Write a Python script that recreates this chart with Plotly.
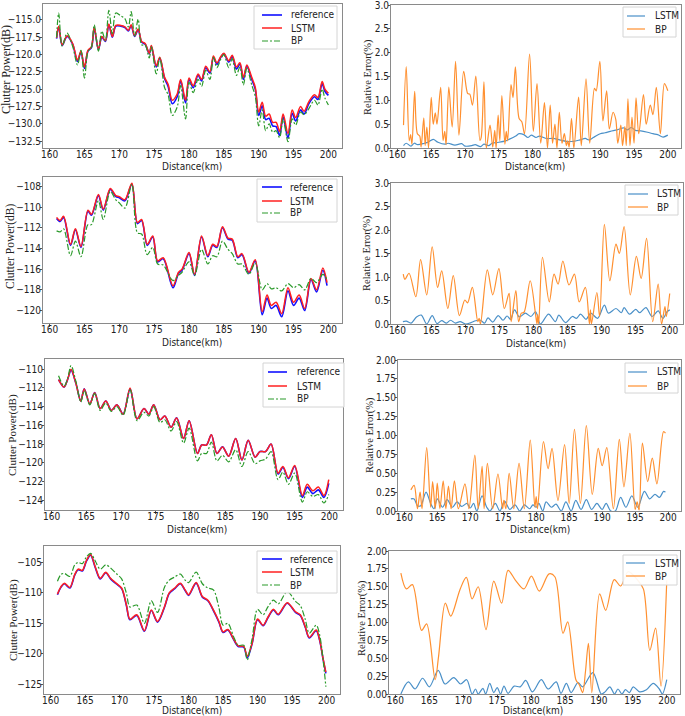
import plotly.graph_objects as go

# ------------------------------------------------------------------ data
# Panel 1 (clutter power, dB)
x1 = [161, 161.3, 161.8, 162.5, 163.3, 164, 164.5, 165, 165.5, 166,
      166.4, 167, 167.5, 168, 168.5, 169, 169.5, 170.2, 170.8, 171.3,
      171.7, 172.2, 172.7, 173.2, 173.7, 174.3, 174.6, 175.3, 175.8, 176.5,
      177, 177.6, 178.3, 178.8, 179.5, 180, 180.6, 181.3, 181.8, 182.4,
      183, 183.5, 184, 184.5, 185, 185.7, 186.2, 186.8, 187.3, 187.8,
      188.3, 189, 189.5, 190, 190.5, 191, 191.5, 192, 192.5, 193,
      193.5, 194.2, 194.8, 195.3, 196, 196.5, 197.2, 198, 198.5, 199.1,
      199.5, 200]
ref1 = [-117.7, -116.0, -118.7, -117.4, -118.5, -121.0, -119.6, -122.0, -119.5, -119.0,
        -116.2, -119.3, -117.5, -118.1, -115.7, -117.5, -115.9, -115.9, -116.1, -116.6,
        -115.8, -117.4, -116.4, -118.2, -118.5, -119.9, -118.8, -121.8, -120.5, -123.5,
        -124.6, -127.1, -126.1, -123.8, -127.0, -123.6, -124.8, -123.0, -123.8, -121.9,
        -122.7, -120.4, -121.4, -120.5, -119.9, -121.1, -120.3, -122.1, -121.4, -123.6,
        -121.7, -123.6, -125.0, -128.8, -127.4, -129.4, -129.2, -130.3, -130.4, -131.7,
        -129.0, -132.1, -128.5, -129.6, -128.0, -128.6, -127.1, -126.1, -126.5, -124.2,
        -125.3, -125.9]
lstm1 = [-117.6, -115.9, -118.6, -117.3, -118.4, -120.8, -119.5, -121.8, -119.4, -118.9,
         -116.1, -119.2, -117.4, -118.0, -115.6, -117.4, -115.8, -115.8, -116.0, -116.5,
         -115.7, -117.3, -116.3, -118.1, -118.4, -119.8, -118.7, -121.6, -120.4, -123.3,
         -124.3, -126.6, -125.7, -123.6, -126.6, -123.4, -124.5, -122.8, -123.6, -121.7,
         -122.5, -120.2, -121.2, -120.4, -119.8, -120.9, -120.1, -121.8, -121.2, -123.3,
         -121.5, -123.3, -124.7, -128.3, -126.9, -128.9, -128.6, -129.8, -129.8, -131.1,
         -128.6, -131.4, -128.0, -129.1, -127.5, -128.2, -126.8, -125.8, -126.2, -123.9,
         -125.0, -125.6]
bp1 = [-117.5, -114.0, -118.8, -116.9, -118.8, -121.5, -119.4, -123.4, -119.6, -118.9,
       -115.7, -119.5, -116.6, -118.0, -113.6, -117.0, -114.0, -114.4, -114.8, -116.0,
       -113.8, -117.3, -114.9, -118.6, -118.6, -120.5, -118.9, -122.8, -120.5, -124.8,
       -125.8, -128.8, -127.6, -124.5, -129.3, -124.0, -125.5, -123.6, -124.6, -122.3,
       -123.6, -120.4, -121.9, -120.8, -120.0, -121.9, -120.6, -123.0, -121.8, -124.4,
       -122.0, -124.4, -126.0, -130.3, -128.0, -131.0, -130.0, -131.2, -131.0, -132.0,
       -129.3, -132.6, -129.3, -130.2, -128.3, -128.7, -127.8, -126.6, -127.3, -125.0,
       -126.3, -127.3]

# Panel 1 relative error (%), (distance, value)
err1_lstm = [(160.9, 0.05), (161.3, 0.1), (162.0, 0.04), (162.5, 0.1), (163.0, 0.07),
             (164.0, 0.1), (164.5, 0.12), (165.3, 0.18), (166.0, 0.12), (167.0, 0.08),
             (167.5, 0.1), (168.5, 0.06), (169.5, 0.09), (170.0, 0.04), (171.0, 0.05),
             (171.5, 0.07), (172.3, 0.03), (172.8, 0.08), (173.5, 0.05), (174.0, 0.1),
             (175.0, 0.12), (176.0, 0.15), (176.5, 0.18), (177.5, 0.25), (178.0, 0.3),
             (178.7, 0.28), (179.3, 0.22), (179.8, 0.27), (180.5, 0.22), (181.0, 0.25),
             (182.0, 0.2), (183.0, 0.2), (184.0, 0.17), (185.0, 0.14), (186.0, 0.14),
             (187.0, 0.17), (187.8, 0.2), (188.3, 0.17), (189.0, 0.22), (190.0, 0.3),
             (190.7, 0.32), (191.5, 0.35), (192.5, 0.38), (193.5, 0.42), (194.0, 0.38),
             (194.6, 0.43), (195.2, 0.37), (196.0, 0.36), (197.0, 0.33), (197.8, 0.3),
             (198.5, 0.28), (199.3, 0.23), (200.0, 0.27)]
err1_bp = [(160.9, 0.48), (161.3, 1.71), (161.75, 0.15), (161.95, 0.28), (162.15, 0.08),
           (162.55, 1.19), (162.95, 0.3), (163.3, 0.25), (163.5, 0.02), (163.9, 0.63),
           (164.1, 0.05), (164.35, 0.44), (164.6, 0.0), (165.0, 1.06), (165.3, 0.5),
           (165.6, 0.74), (165.85, 0.5), (166.4, 1.27), (166.75, 0.16), (167.0, 0.35),
           (167.2, 0.07), (167.6, 1.28), (168.1, 0.44), (168.6, 1.82), (169.1, 0.27),
           (169.8, 1.61), (170.4, 1.14), (170.7, 1.13), (171.1, 0.9), (171.6, 1.51),
           (172.2, 0.16), (172.4, 0.23), (172.8, 1.39), (173.15, 0.0), (173.7, 0.48),
           (174.1, 0.02), (174.4, 0.37), (174.6, 0.0), (174.9, 0.69), (175.15, 0.15),
           (175.45, 1.1), (175.9, 0.08), (176.1, 0.35), (176.3, 0.15), (176.8, 1.33),
           (177.1, 1.06), (177.45, 1.7), (178.0, 0.62), (178.4, 0.55), (178.8, 0.3),
           (179.55, 1.97), (180.1, 0.35), (180.65, 1.35), (181.2, 0.1), (181.75, 0.95),
           (182.2, 0.0), (182.6, 0.9), (182.95, 0.1), (183.3, 0.5), (183.6, 0.0),
           (183.95, 0.75), (184.35, 0.1), (184.7, 0.3), (185.0, 0.05), (185.2, 0.15),
           (185.4, 0.02), (185.75, 0.62), (186.1, 0.0), (186.8, 1.07), (187.2, 0.05),
           (187.9, 1.45), (188.45, 0.1), (189.15, 1.25), (189.4, 1.2), (189.95, 1.82),
           (190.4, 0.57), (190.95, 1.2), (191.35, 0.4), (191.9, 0.75), (192.3, 0.6),
           (192.6, 0.1), (193.05, 0.48), (193.3, 0.05), (193.65, 0.45), (193.85, 0.05),
           (194.1, 1.03), (194.4, 0.05), (194.7, 0.65), (195.0, 0.1), (195.3, 1.05),
           (195.7, 0.3), (196.4, 1.12), (196.8, 0.5), (197.4, 0.9), (197.8, 0.7),
           (198.3, 1.27), (198.9, 0.3), (199.5, 1.35), (200.0, 1.2)]

# Panel 2
x2 = [161, 161.5, 162, 163, 163.7, 164.5, 165.5, 166, 167, 167.7,
      168.7, 169.5, 170, 170.8, 171.8, 172.6, 173.2, 174, 174.8, 175.5,
      176.3, 177.7, 178.5, 179, 180, 180.8, 181.8, 182.7, 183.4, 184,
      184.8, 185.6, 186.2, 187, 187.6, 188.6, 189.5, 190.5, 191.2, 191.8,
      192.5, 193.3, 194.2, 195, 195.8, 196.6, 197.5, 198.3, 199.2, 199.8]
ref2 = [-111.1, -111.4, -111.0, -113.7, -112.2, -113.9, -110.4, -110.8, -108.9, -110.3,
        -108.3, -109.0, -109.1, -109.4, -107.8, -111.6, -111.3, -113.7, -112.9, -115.3,
        -115.0, -117.8, -116.4, -116.1, -114.5, -116.6, -112.9, -114.8, -113.7, -113.9,
        -112.0, -113.1, -113.2, -114.9, -114.6, -116.4, -115.2, -120.4, -118.8, -119.8,
        -119.5, -120.6, -118.1, -119.5, -118.8, -120.0, -117.0, -118.2, -116.1, -117.6]
lstm2 = [-111.0, -111.3, -110.9, -113.6, -112.1, -113.8, -110.3, -110.7, -108.8, -110.2,
         -108.2, -108.9, -109.0, -109.3, -107.7, -111.5, -111.2, -113.6, -112.8, -115.2,
         -114.9, -117.6, -116.3, -116.0, -114.4, -116.5, -112.8, -114.7, -113.6, -113.8,
         -111.9, -113.0, -113.1, -114.8, -114.5, -116.3, -115.1, -120.1, -118.5, -119.5,
         -119.2, -120.3, -117.8, -119.2, -118.5, -119.8, -116.9, -118.0, -115.9, -117.3]
bp2 = [-112.3, -112.4, -112.1, -114.7, -113.3, -114.8, -111.7, -111.7, -109.4, -111.2,
       -108.5, -109.3, -109.6, -110.1, -107.8, -112.5, -112.6, -114.6, -113.9, -115.5,
       -115.6, -117.1, -116.6, -116.3, -115.3, -116.6, -114.1, -115.5, -114.7, -114.8,
       -113.3, -114.1, -114.5, -115.5, -115.5, -116.5, -115.4, -118.0, -117.4, -117.9,
       -117.8, -118.1, -117.4, -117.8, -117.5, -118.0, -116.9, -117.3, -116.5, -117.0]

err2_lstm = [(160.8, 0.05), (161.3, 0.06), (162.0, 0.02), (162.8, 0.15), (163.5, 0.19),
             (164.3, 0.0), (165.1, 0.18), (165.8, 0.01), (166.5, 0.07), (167.2, 0.02),
             (167.8, 0.08), (168.5, 0.02), (169.2, 0.05), (170.0, 0.0), (170.8, 0.03),
             (171.5, 0.07), (172.2, 0.08), (172.8, 0.02), (173.3, 0.13), (174.0, 0.04),
             (174.8, 0.18), (175.5, 0.08), (176.1, 0.17), (176.6, 0.1), (177.2, 0.3),
             (177.9, 0.15), (178.8, 0.23), (179.6, 0.16), (180.3, 0.26), (181.0, 0.0),
             (182.2, 0.21), (183.2, 0.05), (183.7, 0.19), (184.7, 0.03), (185.7, 0.16),
             (186.3, 0.12), (186.9, 0.21), (187.7, 0.1), (188.4, 0.23), (189.4, 0.12),
             (190.4, 0.4), (191.0, 0.23), (192.1, 0.33), (192.9, 0.24), (193.3, 0.35),
             (194.1, 0.21), (195.0, 0.31), (195.6, 0.24), (196.5, 0.35), (197.4, 0.16),
             (198.3, 0.28), (199.0, 0.12), (199.6, 0.26), (200.0, 0.3)]
err2_bp = [(160.85, 1.06), (161.1, 0.95), (161.7, 1.08), (162.7, 0.58), (163.4, 1.37),
           (164.3, 0.62), (165.1, 1.64), (165.9, 0.78), (166.5, 1.13), (167.4, 0.33),
           (168.2, 1.03), (169.1, 0.18), (169.9, 0.51), (170.3, 0.45), (171.0, 0.78),
           (171.8, 0.05), (172.0, 0.12), (172.2, 0.0), (173.2, 1.15), (174.0, 0.62),
           (174.9, 1.18), (175.7, 0.33), (176.4, 0.65), (176.7, 0.05), (177.4, 0.71),
           (177.8, 0.05), (178.2, 0.23), (178.6, 0.25), (179.5, 0.92), (180.3, 0.19),
           (180.5, 0.0), (180.6, 0.2), (180.75, 0.0), (181.3, 1.42), (182.3, 0.47),
           (183.0, 1.06), (183.6, 0.85), (184.3, 1.34), (185.2, 0.83), (186.0, 1.06),
           (186.7, 0.47), (187.6, 0.78), (188.2, 0.0), (188.35, 0.3), (188.5, 0.0),
           (189.3, 0.67), (189.7, 0.16), (190.4, 2.12), (191.2, 0.92), (192.1, 1.7),
           (192.6, 1.5), (193.3, 2.07), (194.2, 0.62), (195.1, 1.44), (195.8, 0.97),
           (196.6, 1.82), (197.5, 0.05), (198.3, 0.85), (198.8, 0.0), (199.3, 0.37),
           (199.5, 0.16), (200.0, 0.65)]

# Panel 3
x3 = [161, 161.8, 162.3, 162.8, 163.5, 164.2, 164.7, 165.5, 166.2, 167,
      167.8, 168.6, 169.4, 170.3, 171.3, 172.3, 173.3, 174, 174.7, 175.6,
      176.3, 177.2, 178, 179, 179.8, 181, 181.6, 182.3, 183, 183.8,
      184.6, 185.5, 186.5, 187.4, 188.3, 189.3, 190, 190.8, 191.6, 192.6,
      193.3, 194.1, 195, 196.1, 196.8, 197.6, 198.4, 199.2, 199.9]
ref3 = [-111.1, -111.9, -111.1, -110.1, -111.5, -113.4, -112.1, -113.7, -112.5, -114.2,
        -113.4, -114.4, -113.8, -114.8, -112.1, -115.3, -114.2, -114.8, -113.8, -115.4,
        -115.0, -116.2, -115.2, -117.4, -115.5, -119.0, -118.1, -118.1, -117.0, -119.0,
        -118.3, -119.3, -117.4, -119.7, -117.6, -119.4, -118.8, -118.8, -118.0, -121.2,
        -120.5, -121.7, -120.4, -123.7, -122.6, -123.3, -122.9, -123.7, -122.2]
lstm3 = [-111.1, -111.9, -111.1, -110.0, -111.5, -113.4, -112.1, -113.7, -112.5, -114.2,
         -113.4, -114.4, -113.8, -114.8, -112.0, -115.3, -114.2, -114.8, -113.8, -115.4,
         -115.0, -116.2, -115.2, -117.4, -115.5, -119.0, -118.1, -118.1, -117.0, -119.0,
         -118.3, -119.3, -117.4, -119.7, -117.6, -119.4, -118.8, -118.8, -118.0, -121.1,
         -120.4, -121.6, -120.3, -123.5, -122.3, -123.0, -122.6, -123.5, -121.8]
bp3 = [-110.7, -111.8, -111.0, -109.6, -111.3, -113.5, -112.3, -113.8, -112.6, -114.4,
       -113.6, -114.5, -114.0, -114.9, -112.2, -115.5, -114.6, -115.0, -114.0, -115.7,
       -115.4, -116.6, -115.6, -117.9, -116.3, -119.8, -119.0, -119.0, -117.8, -119.8,
       -119.2, -119.9, -118.6, -120.4, -118.8, -120.1, -119.8, -119.6, -118.8, -121.8,
       -121.0, -122.3, -121.1, -124.2, -123.1, -123.6, -123.4, -124.3, -123.4]

err3_lstm = [(161.0, 0.16), (161.5, 0.16), (162.0, 0.07), (162.5, 0.07), (163.3, 0.25),
             (164.0, 0.1), (164.5, 0.03), (165.0, 0.16), (165.8, 0.05), (166.5, 0.15),
             (167.3, 0.05), (168.0, 0.12), (168.7, 0.06), (169.5, 0.1), (170.0, 0.04),
             (170.5, 0.1), (171.0, 0.0), (171.8, 0.2), (172.5, 0.05), (173.0, 0.0),
             (173.8, 0.1), (174.5, 0.0), (175.2, 0.13), (176.0, 0.02), (176.8, 0.08),
             (177.5, 0.0), (178.2, 0.08), (179.0, 0.03), (179.5, 0.08), (180.0, 0.05),
             (180.4, 0.1), (181.0, 0.0), (181.5, 0.12), (182.3, 0.05), (183.0, 0.09),
             (183.8, 0.0), (184.5, 0.12), (185.3, 0.0), (186.0, 0.14), (186.8, 0.02),
             (187.6, 0.15), (188.4, 0.02), (189.2, 0.1), (190.0, 0.02), (190.6, 0.1),
             (191.3, 0.0), (192.0, 0.0), (192.8, 0.18), (193.6, 0.05), (194.5, 0.2),
             (195.4, 0.05), (196.4, 0.26), (197.2, 0.16), (198.0, 0.22), (198.7, 0.18),
             (199.3, 0.26), (199.6, 0.25)]
err3_bp = [(161.0, 0.28), (161.5, 0.34), (162.0, 0.03), (162.4, 0.25), (162.7, 0.03),
           (163.4, 0.84), (164.0, 0.05), (164.3, 0.39), (164.7, 0.03), (165.0, 0.37),
           (165.4, 0.03), (165.9, 0.4), (166.3, 0.03), (166.7, 0.33), (167.1, 0.03),
           (167.6, 0.4), (168.2, 0.03), (169.2, 0.36), (169.8, 0.03), (170.7, 0.74),
           (171.2, 0.03), (171.8, 0.59), (172.1, 0.03), (172.6, 0.63), (173.4, 0.03),
           (174.2, 0.49), (174.9, 0.03), (175.1, 0.14), (175.4, 0.03), (175.9, 0.5),
           (176.6, 0.03), (177.4, 0.63), (178.2, 0.03), (179.1, 0.94), (179.8, 0.05),
           (180.0, 0.19), (180.2, 0.03), (181.1, 0.92), (181.8, 0.56), (182.4, 0.83),
           (183.3, 0.14), (184.3, 0.88), (185.0, 0.1), (185.8, 1.08), (186.7, 0.1),
           (187.6, 1.13), (188.5, 0.22), (189.4, 0.83), (190.0, 0.6), (190.7, 0.84),
           (191.7, 0.03), (192.6, 0.95), (193.3, 0.32), (194.2, 1.03), (195.0, 0.02),
           (195.3, 0.12), (195.6, 0.01), (196.1, 0.9), (196.9, 0.39), (197.6, 0.7),
           (198.3, 0.36), (199.3, 1.05), (199.6, 1.03)]

# Panel 4
x4 = [161, 161.5, 162, 162.8, 163.5, 164, 164.6, 165.2, 165.8, 166.5,
      167.2, 168, 168.7, 169.5, 170.3, 171, 171.5, 172.5, 173.6, 174.6,
      175.5, 176.5, 177.2, 178, 178.8, 179.5, 180, 181.1, 182, 182.8,
      183.6, 184.4, 185, 185.7, 186.5, 187.2, 188, 188.5, 189.2, 190,
      190.8, 191.5, 192.3, 193, 194.3, 195.5, 196.2, 196.9, 197.5, 198.5,
      199, 199.5, 199.9]
ref4 = [-110.3, -109.1, -108.5, -109.2, -107.1, -106.2, -106.4, -104.8, -103.8, -105.9,
        -107.7, -106.7, -107.7, -108.5, -109.3, -112.1, -114.4, -113.7, -116.3, -112.9,
        -114.8, -112.4, -110.1, -109.3, -108.5, -109.6, -110.4, -108.4, -110.7, -111.3,
        -112.9, -114.8, -116.5, -116.1, -117.6, -118.8, -118.9, -120.7, -118.4, -114.4,
        -115.4, -114.1, -112.8, -113.6, -111.7, -113.2, -113.7, -115.6, -117.4, -116.2,
        -117.8, -120.9, -123.2]
lstm4 = [-110.2, -109.0, -108.4, -109.1, -107.0, -106.1, -106.3, -104.7, -103.7, -105.8,
         -107.6, -106.6, -107.6, -108.4, -109.2, -112.0, -114.3, -113.6, -116.2, -112.8,
         -114.7, -112.3, -110.0, -109.2, -108.4, -109.5, -110.3, -108.3, -110.6, -111.2,
         -112.8, -114.7, -116.4, -116.0, -117.5, -118.7, -118.8, -120.4, -118.3, -114.3,
         -115.3, -114.0, -112.7, -113.5, -111.6, -113.1, -113.6, -115.5, -117.3, -116.1,
         -117.7, -120.8, -123.0]
bp4 = [-108.1, -107.0, -106.8, -107.3, -105.4, -105.0, -105.2, -104.1, -103.5, -104.8,
       -106.1, -105.4, -105.9, -106.8, -107.7, -110.1, -112.3, -112.0, -115.0, -111.3,
       -113.2, -109.1, -107.9, -107.4, -106.9, -107.9, -108.3, -106.6, -108.5, -109.2,
       -109.5, -112.4, -115.3, -115.0, -117.1, -118.6, -118.6, -121.0, -117.6, -112.7,
       -113.6, -112.3, -111.2, -111.8, -109.8, -111.4, -112.1, -114.3, -116.6, -115.3,
       -116.9, -121.0, -125.4]

err4_lstm = [(160.8, 0.0), (161.9, 0.17), (162.9, 0.07), (164.0, 0.22), (165.0, 0.1),
             (166.3, 0.33), (167.3, 0.14), (168.6, 0.23), (169.6, 0.14), (170.5, 0.2),
             (171.3, 0.0), (171.8, 0.07), (172.2, 0.0), (172.9, 0.08), (173.3, 0.0),
             (173.9, 0.15), (174.5, 0.02), (175.0, 0.09), (175.5, 0.0), (176.0, 0.11),
             (176.6, 0.01), (177.5, 0.11), (178.4, 0.1), (179.2, 0.19), (180.2, 0.03),
             (181.5, 0.2), (182.5, 0.07), (183.7, 0.17), (184.4, 0.01), (185.2, 0.15),
             (185.9, 0.02), (186.9, 0.16), (187.6, 0.1), (189.1, 0.3), (190.35, 0.0),
             (190.9, 0.03), (191.6, 0.1), (192.3, 0.0), (192.8, 0.07), (193.4, 0.0),
             (193.9, 0.06), (194.5, 0.02), (195.05, 0.1), (196.0, 0.03), (197.0, 0.06),
             (198.0, 0.15), (198.9, 0.07), (199.35, 0.0), (200.0, 0.2)]
err4_bp = [(160.8, 1.69), (161.6, 1.47), (162.5, 1.53), (163.85, 0.89), (164.6, 0.98),
           (165.85, 0.2), (166.35, 0.52), (167.35, 1.27), (168.15, 1.09), (169.55, 1.47),
           (170.45, 1.63), (171.3, 1.33), (172.2, 1.5), (173.35, 0.9), (174.5, 1.58),
           (175.65, 1.27), (176.6, 1.73), (177.7, 1.59), (178.95, 1.47), (180.05, 1.65),
           (181.2, 1.44), (182.65, 1.68), (183.5, 1.64), (184.7, 0.85), (185.4, 1.01),
           (186.6, 0.2), (187.1, 0.13), (187.6, 0.02), (188.0, 0.3), (188.45, 0.71),
           (188.95, 0.02), (190.1, 1.4), (191.0, 1.17), (192.25, 1.6), (193.2, 1.51),
           (194.3, 1.71), (195.55, 1.61), (196.55, 1.47), (197.5, 0.61), (198.35, 0.92),
           (199.15, 0.11), (200.0, 1.59)]

xtick_vals = [160, 165, 170, 175, 180, 185, 190, 195, 200]
ytick1 = [-115.0, -117.5, -120.0, -122.5, -125.0, -127.5, -130.0, -132.5]
ytick2 = [-108, -110, -112, -114, -116, -118, -120]
ytick3 = [-110, -112, -114, -116, -118, -120, -122, -124]
ytick4 = [-105, -110, -115, -120, -125]
etick3 = [0.0, 0.5, 1.0, 1.5, 2.0, 2.5, 3.0]
etick2 = [0.0, 0.25, 0.5, 0.75, 1.0, 1.25, 1.5, 1.75, 2.0]

left_names = ["reference", "LSTM", "BP"]
right_names = ["LSTM", "BP"]

# ------------------------------------------------------------------ styling / layout
W, H = 685, 716
COND = "DejaVu Sans Condensed, Noto Sans CJK SC, sans-serif"
TICKFONT = dict(family=COND, size=10, color="#222")
LEGFONT = dict(family=COND, size=10, color="#222")

STY_REF = dict(color="#1010ff", width=1.6)
STY_LSTM = dict(color="#ff2020", width=1.5)
STY_BP = dict(color="#2a9a2a", width=1.2, dash="6px,2px,2px,2px")
STY_ELSTM = dict(color="#4a90c8", width=1.2)
STY_EBP = dict(color="#ff9030", width=1.2)


def px_x(v):
    return v / W


def px_y(v):
    return 1 - v / H


def fmt(v, nd):
    return f"{v:.{nd}f}".replace("-", "\u2212")


panels = [
    # frame px (left,right,top,bottom), y range, y ticks, decimals,
    # legend: box px, line start, line end, text x, row ys
    dict(box=(43, 342, 4, 148), yr=[-133.5, -112.7], yt=ytick1, nd=1,
         lbox=(254, 337, 6, 49), lx=(262, 282, 289), rows=(15, 28, 41)),
    dict(box=(391, 681, 5, 148), yr=[0, 3.0], yt=etick3, nd=1,
         lbox=(623, 676, 7, 37), lx=(627, 645, 653), rows=(16, 29)),
    dict(box=(43, 342, 177, 323), yr=[-121.2, -107.1], yt=ytick2, nd=0,
         lbox=(257, 337, 179, 222), lx=(262, 282, 288), rows=(187, 201, 213)),
    dict(box=(391, 683, 183, 324), yr=[0, 3.0], yt=etick3, nd=1,
         lbox=(625, 678, 185, 215), lx=(628, 648, 655), rows=(194, 207)),
    dict(box=(45, 343, 359, 510), yr=[-125.05, -108.9], yt=ytick3, nd=0,
         lbox=(263, 344, 363, 407), lx=(268, 287, 295), rows=(372, 386, 399)),
    dict(box=(398, 681, 360, 511), yr=[0, 2.0], yt=etick2, nd=2,
         lbox=(625, 678, 363, 393), lx=(628, 647, 655), rows=(372, 386)),
    dict(box=(44, 340, 546, 694), yr=[-126.6, -102.3], yt=ytick4, nd=0,
         lbox=(257, 337, 551, 593), lx=(262, 282, 288), rows=(559, 572, 585)),
    dict(box=(389, 680, 551, 694), yr=[0, 2.0], yt=etick2, nd=2,
         lbox=(623, 677, 555, 585), lx=(626, 645, 653), rows=(563, 576)),
]

fig = go.Figure()
layout = dict(width=W, height=H, margin=dict(l=0, r=0, t=0, b=0, autoexpand=False),
              paper_bgcolor="white", plot_bgcolor="white", showlegend=False,
              template="none")

shapes = []
ann = []

for i, p in enumerate(panels, start=1):
    bl, br, bt, bb = p["box"]
    sx = "" if i == 1 else str(i)
    layout["xaxis" + sx] = dict(
        domain=[px_x(bl), px_x(br)], anchor="y" + sx, range=[159.05, 201.95],
        tickmode="array", tickvals=xtick_vals, ticktext=[str(v) for v in xtick_vals],
        showline=True, mirror=True, linecolor="#8a8a8a", linewidth=1,
        ticks="outside", ticklen=3, tickcolor="#555", tickfont=TICKFONT,
        ticklabeloverflow="allow", ticklabelstandoff=-6,
        showgrid=False, zeroline=False, automargin=False, fixedrange=True)
    layout["yaxis" + sx] = dict(
        domain=[px_y(bb), px_y(bt)], anchor="x" + sx, range=p["yr"], tickmode="array",
        tickvals=p["yt"], ticktext=[fmt(v, p["nd"]) for v in p["yt"]],
        showline=True, mirror=True, linecolor="#8a8a8a", linewidth=1,
        ticks="outside", ticklen=2, tickcolor="#555", tickfont=TICKFONT,
        ticklabeloverflow="allow", ticklabelstandoff=-3,
        showgrid=False, zeroline=False, automargin=False, fixedrange=True)

left_sets = [(x1, ref1, lstm1, bp1), (x2, ref2, lstm2, bp2),
             (x3, ref3, lstm3, bp3), (x4, ref4, lstm4, bp4)]
err_sets = [(err1_lstm, err1_bp), (err2_lstm, err2_bp),
            (err3_lstm, err3_bp), (err4_lstm, err4_bp)]

for k in range(4):
    li, ri = 2 * k + 1, 2 * k + 2
    sl = "" if li == 1 else str(li)
    sr = str(ri)
    xs, r, l, b = left_sets[k]
    common = dict(mode="lines", line_shape="spline", xaxis="x" + sl, yaxis="y" + sl)
    fig.add_trace(go.Scatter(x=xs, y=r, name=left_names[0],
                             line=dict(**STY_REF, smoothing=0.9), **common))
    fig.add_trace(go.Scatter(x=xs, y=l, name=left_names[1],
                             line=dict(**STY_LSTM, smoothing=0.9), **common))
    fig.add_trace(go.Scatter(x=xs, y=b, name=left_names[2],
                             line=dict(**STY_BP, smoothing=0.9), **common))
    el, eb = err_sets[k]
    commonr = dict(mode="lines", line_shape="spline", xaxis="x" + sr, yaxis="y" + sr)
    fig.add_trace(go.Scatter(x=[q[0] for q in el], y=[q[1] for q in el], name=right_names[0],
                             line=dict(**STY_ELSTM, smoothing=0.9), **commonr))
    fig.add_trace(go.Scatter(x=[q[0] for q in eb], y=[q[1] for q in eb], name=right_names[1],
                             line=dict(**STY_EBP, smoothing=0.9), **commonr))

# legends (drawn as boxes + line samples + text)
for i, p in enumerate(panels, start=1):
    bx0, bx1, by0, by1 = p["lbox"]
    shapes.append(dict(type="rect", xref="paper", yref="paper",
                       x0=px_x(bx0), x1=px_x(bx1), y0=px_y(by1), y1=px_y(by0),
                       line=dict(color="#d4d4d4", width=1), fillcolor="rgba(255,255,255,0.92)",
                       layer="above"))
    if i % 2 == 1:
        names, styles = left_names, [STY_REF, STY_LSTM, STY_BP]
    else:
        names, styles = right_names, [STY_ELSTM, STY_EBP]
    lx0, lx1, tx = p["lx"]
    for name, sty, ry in zip(names, styles, p["rows"]):
        shapes.append(dict(type="line", xref="paper", yref="paper",
                           x0=px_x(lx0), x1=px_x(lx1), y0=px_y(ry), y1=px_y(ry),
                           line=dict(color=sty["color"], width=sty["width"],
                                     dash=sty.get("dash", "solid")),
                           layer="above"))
        ann.append(dict(x=px_x(tx), y=px_y(ry), xref="paper", yref="paper", text=name,
                        showarrow=False, xanchor="left", yanchor="middle", font=LEGFONT))

# axis titles
ylab_left = [(6, 70, 12), (11, 247, 11.5), (13, 435, 11), (13, 620, 11)]
ylab_right = [(368, 77, 10.5), (367, 253, 10.5), (370, 435, 10.5), (362, 618, 10.5)]
xlab = [(192, 166), (535, 166), (192, 342), (536, 343),
        (197, 529), (540, 529), (192, 710), (533, 710)]
for (x, y, s) in ylab_left:
    ann.append(dict(x=px_x(x), y=px_y(y), xref="paper", yref="paper", text="Clutter Power(dB)",
                    textangle=-90, showarrow=False, xanchor="center", yanchor="middle",
                    font=dict(family="Liberation Serif", size=s, color="#222")))
for (x, y, s) in ylab_right:
    ann.append(dict(x=px_x(x), y=px_y(y), xref="paper", yref="paper", text="Relative Error(%)",
                    textangle=-90, showarrow=False, xanchor="center", yanchor="middle",
                    font=dict(family="Liberation Serif", size=s, color="#222")))
for (x, y) in xlab:
    ann.append(dict(x=px_x(x), y=px_y(y), xref="paper", yref="paper", text="Distance(km)",
                    showarrow=False, xanchor="center", yanchor="middle",
                    font=dict(family=COND, size=10, color="#222")))

layout["shapes"] = shapes
layout["annotations"] = ann
fig.update_layout(**layout)
fig.write_html("out.html", config={"displayModeBar": False},
               post_script="document.body.style.margin='0';"
                           "document.body.style.overflow='hidden';")
